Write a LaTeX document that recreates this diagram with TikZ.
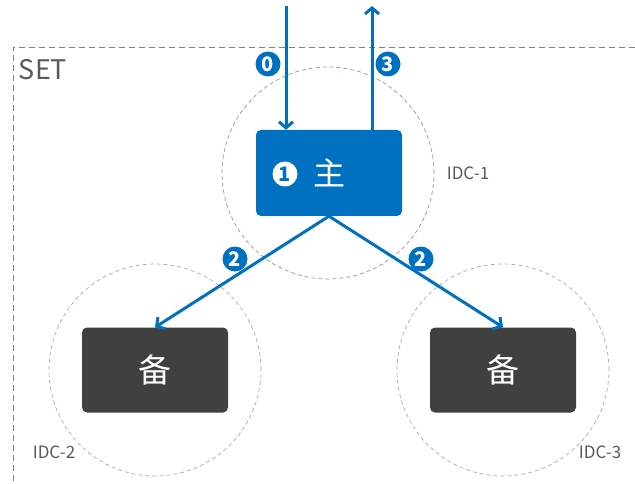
\documentclass[tikz,border=0pt]{standalone}
\usepackage{fontspec}
\setmainfont{Noto Sans CJK SC}
\usepackage{tikz}
\usetikzlibrary{arrows.meta,positioning,calc}
\definecolor{setblue}{RGB}{0,112,192}
\definecolor{boxgray}{RGB}{64,64,64}
\definecolor{idcblue}{RGB}{132,151,176}
\definecolor{idcgray}{RGB}{170,170,170}
\definecolor{txtgray}{RGB}{90,90,90}
\tikzset{>={Straight Barb[length=6pt,width=14pt,line width=3pt]},
	mainbox/.style={rectangle,rounded corners=5pt,fill=setblue,text=white,minimum width=146pt,minimum height=86pt,inner sep=0pt,font=\fontsize{32}{32}\selectfont},
	bakbox/.style={rectangle,rounded corners=5pt,fill=boxgray,text=white,minimum width=146pt,minimum height=85pt,inner sep=0pt,font=\fontsize{33}{33}\selectfont},
	idc/.style={circle,draw,dash pattern=on 4pt off 3pt,line width=0.7pt,minimum size=212pt,inner sep=0pt},
	badge/.style={circle,fill=setblue,text=white,minimum size=25pt,inner sep=0pt,font=\fontsize{20}{20}\bfseries\selectfont},
	wbadge/.style={circle,fill=white,text=setblue,minimum size=25pt,inner sep=0pt,font=\fontsize{20}{20}\bfseries\selectfont},
	idclabel/.style={inner sep=0pt,text=txtgray,font=\fontsize{17}{17}\selectfont},
	flow/.style={->,draw=setblue,line width=3pt}}
\begin{document}
\begin{tikzpicture}[x=1pt,y=-1pt]
	\useasboundingbox (0,0) rectangle (635,484);
	\draw [draw=gray,line width=0.8pt,dash pattern=on 6pt off 4pt] (635,47) -- (13,47) -- (13,484);
	\node at (43,70) [inner sep=0pt,text=txtgray,font=\fontsize{27}{27}\selectfont] {SET};
	\node (idc1) at (328,173) [idc,draw=idcblue] {};
	\node (idc2) at (155,370) [idc,draw=idcgray] {};
	\node (idc3) at (503,370) [idc,draw=idcgray] {};
	\node (main) at (329,173) [mainbox] {主};
	\node (bak2) at (155,370) [bakbox] {备};
	\node (bak3) at (503,370) [bakbox] {备};
	\node at (468,173) [idclabel] {IDC-1};
	\node at (54,452) [idclabel] {IDC-2};
	\node at (600,452) [idclabel] {IDC-3};
	\coordinate (in) at (286,6);
	\coordinate (out) at (372,6);
	\draw [flow] (in) -- (in |- main.north);
	\draw [flow] (out |- main.north) -- (out);
	\draw [flow] (main.south) -- (bak2.north);
	\draw [flow] (main.south) -- (bak3.north);
	\node at (268,64) [badge] {0};
	\node at (388,64) [badge] {3};
	\node at (285,174) [wbadge] {1};
	\node at (235,259) [badge] {2};
	\node at (421,259) [badge] {2};
\end{tikzpicture}
\end{document}
